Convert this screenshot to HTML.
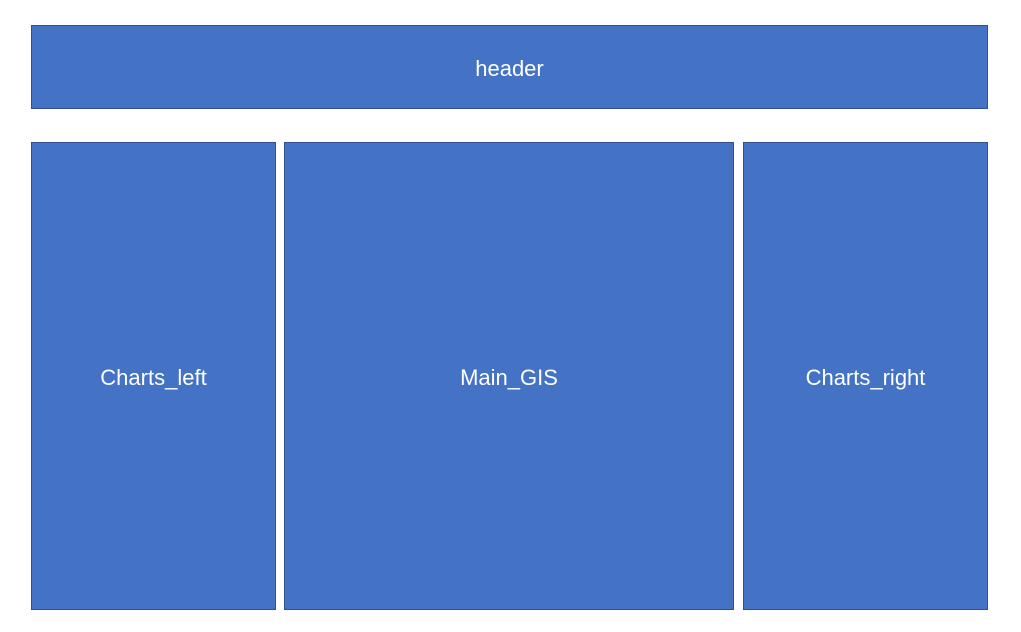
<!DOCTYPE html>
<html><head><meta charset="utf-8"><style>
html,body{margin:0;padding:0;background:#fff;width:1021px;height:632px;overflow:hidden;}
.b{position:absolute;box-sizing:border-box;background:#4472c4;border:1px solid #2f528f;color:#fff;padding-top:3px;
font-family:"Liberation Sans",sans-serif;font-size:22px;display:flex;align-items:center;justify-content:center;}
</style></head><body>
<div class="b" style="left:31px;top:25px;width:957px;height:84px;">header</div>
<div class="b" style="left:31px;top:142px;width:245px;height:468px;">Charts_left</div>
<div class="b" style="left:284px;top:142px;width:450px;height:468px;">Main_GIS</div>
<div class="b" style="left:743px;top:142px;width:245px;height:468px;">Charts_right</div>
</body></html>
